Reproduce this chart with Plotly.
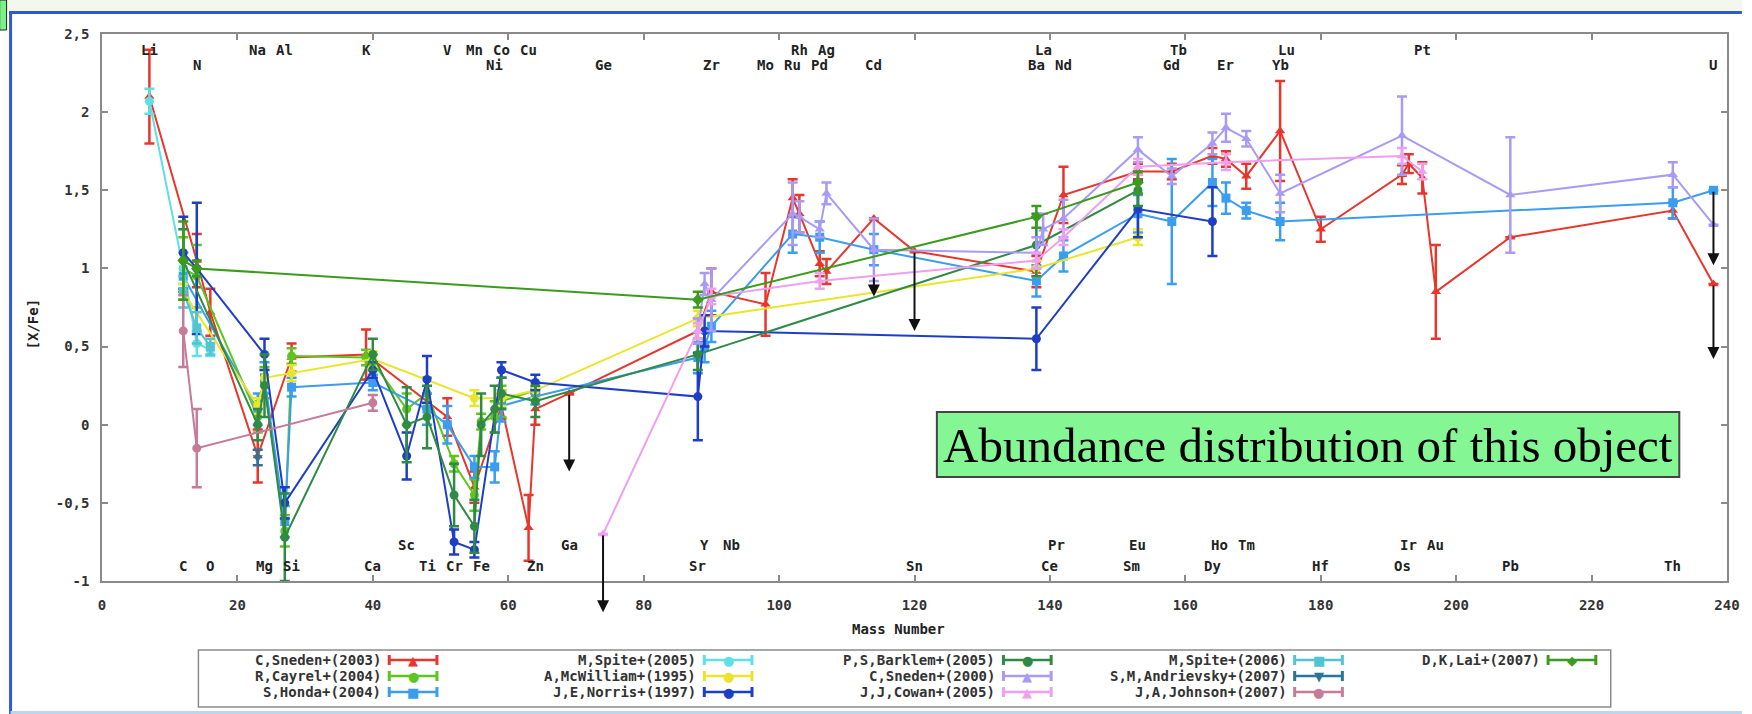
import plotly.graph_objects as go

W, H = 1752, 714
L, R, T, B = 102, 1737, 34, 581

mass_number = {"Li": 7, "C": 12, "N": 14, "O": 16, "Na": 23, "Mg": 24, "Al": 27, "Si": 28,
               "K": 39, "Ca": 40, "Sc": 45, "Ti": 48, "V": 51, "Cr": 52, "Mn": 55, "Fe": 56,
               "Ni": 58, "Co": 59, "Cu": 63, "Zn": 64, "Ga": 69, "Ge": 74, "Sr": 88, "Y": 89,
               "Zr": 90, "Nb": 93, "Mo": 98, "Ru": 102, "Rh": 103, "Pd": 106, "Ag": 107,
               "Cd": 114, "Sn": 120, "Ba": 138, "La": 139, "Ce": 140, "Pr": 141, "Nd": 142,
               "Sm": 152, "Eu": 153, "Gd": 158, "Tb": 159, "Dy": 164, "Ho": 165, "Er": 166,
               "Tm": 169, "Yb": 174, "Lu": 175, "Hf": 180, "Os": 192, "Ir": 193, "Pt": 195,
               "Au": 197, "Pb": 208, "Th": 232, "U": 238}

# ---------------- series data ----------------
sneden03_el = ["Li", "N", "O", "Na", "Si", "K", "V", "Mn", "Co", "Cu", "Zn", "Ga", "Sr", "Zr", "Mo",
               "Ru", "Rh", "Pd", "Ag", "Cd", "Sn", "Ba", "Nd", "Eu", "Gd", "Dy", "Er", "Tm", "Yb",
               "Hf", "Os", "Ir", "Pt", "Au", "Pb", "Th", "U"]
sneden03_y = [2.10, 1.05, 0.72, -0.20, 0.43, 0.45, 0.05, -0.40, 0.12, -0.66, 0.10, 0.20, 0.60, 0.85, 0.77,
              1.45, 1.35, 1.03, 0.98, 1.32, 1.11, 0.98, 1.47, 1.62, 1.62, 1.72, 1.70, 1.59, 1.88,
              1.25, 1.60, 1.67, 1.58, 0.85, 1.20, 1.37, 0.90]
sneden03_err = [0.30, 0.17, 0.15, 0.17, 0.09, 0.16, 0.12, 0.10, 0.08, 0.21, 0.10, 0.0, 0.08, 0.15, 0.20,
                0.12, 0.12, 0.08, 0.08, 0.0, 0.0, 0.10, 0.18, 0.05, 0.05, 0.05, 0.05, 0.08, 0.32,
                0.08, 0.06, 0.06, 0.10, 0.30, 0.0, 0.05, 0.0]

cayrel04_el = ["C", "N", "Na", "Mg", "Al", "Si", "K", "Ca", "Sc", "Ti", "Cr", "Mn", "Fe", "Ni", "Co", "Zn"]
cayrel04_y = [1.00, 0.95, 0.05, 0.27, -0.68, 0.44, 0.43, 0.40, 0.10, 0.20, -0.25, -0.45, 0.02, 0.05, 0.15, 0.22]
cayrel04_err = [0.20, 0.20, 0.10, 0.10, 0.10, 0.05, 0.05, 0.05, 0.10, 0.10, 0.05, 0.10, 0.05, 0.10, 0.10, 0.05]

honda04_el = ["C", "Na", "Mg", "Al", "Si", "Ca", "Ti", "V", "Mn", "Ni", "Co", "Zn", "Sr", "Y", "Zr", "Ru",
              "Pd", "Cd", "Ba", "Nd", "Eu", "Gd", "Dy", "Er", "Tm", "Yb", "Th", "U"]
honda04_y = [0.95, 0.10, 0.30, -0.62, 0.24, 0.27, 0.10, 0.00, -0.27, -0.27, 0.12, 0.18, 0.43, 0.50, 0.63, 1.22,
             1.20, 1.12, 0.92, 1.08, 1.35, 1.30, 1.55, 1.45, 1.37, 1.30, 1.42, 1.50]
honda04_err = [0.15, 0.10, 0.10, 0.10, 0.06, 0.05, 0.10, 0.12, 0.07, 0.10, 0.10, 0.05, 0.10, 0.10, 0.10, 0.12,
               0.10, 0.10, 0.10, 0.10, 0.12, 0.40, 0.15, 0.10, 0.05, 0.12, 0.10, 0.0]

spite05_el = ["Li", "C", "N", "O"]
spite05_y = [2.07, 1.00, 0.52, 0.48]
spite05_err = [0.08, 0.10, 0.08, 0.04]

mcwilliam95_el = ["C", "Na", "Mg", "Si", "Ca", "Mn", "Co", "Zn", "Sr", "Ba", "Eu"]
mcwilliam95_y = [0.85, 0.12, 0.30, 0.33, 0.42, 0.17, 0.17, 0.22, 0.68, 1.00, 1.20]
mcwilliam95_err = [0.05, 0.05, 0.05, 0.05, 0.05, 0.05, 0.05, 0.05, 0.05, 0.05, 0.05]

norris97_el = ["C", "N", "Mg", "Al", "Ca", "Sc", "Ti", "Cr", "Mn", "Co", "Zn", "Sr", "Y", "Ba", "Eu", "Dy"]
norris97_y = [1.10, 1.00, 0.45, -0.50, 0.35, -0.20, 0.29, -0.75, -0.80, 0.35, 0.27, 0.18, 0.60, 0.55, 1.38, 1.30]
norris97_err = [0.23, 0.42, 0.10, 0.10, 0.05, 0.15, 0.15, 0.08, 0.05, 0.05, 0.05, 0.28, 0.10, 0.20, 0.18, 0.22]

barklem05_el = ["C", "Na", "Mg", "Al", "Ca", "Sc", "Ti", "Cr", "Mn", "Fe", "Ni", "Co", "Zn", "Sr", "Ba", "Eu"]
barklem05_y = [1.05, 0.00, 0.25, -0.72, 0.45, 0.00, 0.05, -0.45, -0.65, 0.00, 0.10, 0.20, 0.15, 0.45, 1.15, 1.50]
barklem05_err = [0.20, 0.10, 0.20, 0.28, 0.10, 0.24, 0.20, 0.20, 0.17, 0.20, 0.15, 0.10, 0.10, 0.10, 0.20, 0.10]

sneden00_el = ["Sr", "Y", "Zr", "Ru", "Rh", "Pd", "Ag", "Cd", "Ba", "La", "Nd", "Eu", "Gd", "Dy", "Er",
               "Tm", "Yb", "Os", "Pb", "Th", "U"]
sneden00_y = [0.60, 0.90, 0.80, 1.35, 1.33, 1.25, 1.48, 1.12, 1.10, 1.25, 1.32, 1.76, 1.59, 1.80, 1.90,
              1.83, 1.48, 1.85, 1.47, 1.60, 1.28]
sneden00_err = [0.08, 0.07, 0.20, 0.20, 0.10, 0.05, 0.07, 0.20, 0.10, 0.10, 0.12, 0.08, 0.05, 0.07, 0.09,
                0.05, 0.12, 0.25, 0.37, 0.08, 0.0]

cowan05_el = ["Ge", "Sr", "Zr", "Pd", "Ba", "Nd", "Eu", "Er", "Os", "Pt"]
cowan05_y = [-0.70, 0.60, 0.82, 0.92, 1.05, 1.20, 1.65, 1.68, 1.72, 1.62]
cowan05_err = [0.0, 0.05, 0.05, 0.05, 0.05, 0.05, 0.05, 0.05, 0.05, 0.05]

spite06_el = ["C", "N", "O"]
spite06_y = [0.85, 0.62, 0.50]
spite06_err = [0.10, 0.10, 0.05]

andrievsky07_el = ["Na"]
andrievsky07_y = [-0.21]
andrievsky07_err = [0.05]

johnson07_el = ["C", "N", "Ca"]
johnson07_y = [0.60, -0.15, 0.14]
johnson07_err = [0.23, 0.25, 0.05]

lai07_el = ["C", "N", "Sr", "Ba", "Eu"]
lai07_y = [1.05, 1.00, 0.80, 1.33, 1.55]
lai07_err = [0.25, 0.05, 0.05, 0.07, 0.07]

# upper limits (black arrows): x position, arrow start, arrow tip
ul_el = ["Ga", "Ge", "Cd", "Sn", "U", "U"]
ul_from = [0.20, -0.70, 0.95, 1.11, 1.50, 0.90]
ul_to = [-0.30, -1.20, 0.82, 0.60, 1.02, 0.42]

# element labels
label_row1 = ["Li", "Na", "Al", "K", "V", "Mn", "Co", "Cu", "Rh", "Ag", "La", "Tb", "Lu", "Pt"]
label_row2 = ["N", "Ni", "Ge", "Zr", "Mo", "Ru", "Pd", "Cd", "Ba", "Nd", "Gd", "Er", "Yb", "U"]
label_row3 = ["Sc", "Ga", "Y", "Nb", "Pr", "Eu", "Ho", "Tm", "Ir", "Au"]
label_row4 = ["C", "O", "Mg", "Si", "Ca", "Ti", "Cr", "Fe", "Zn", "Sr", "Sn", "Ce", "Sm", "Dy", "Hf",
              "Os", "Pb", "Th"]
label_row_y = [2.40, 2.30, -0.77, -0.905]

x_ticks = [0, 20, 40, 60, 80, 100, 120, 140, 160, 180, 200, 220, 240]
y_ticks = [-1, -0.5, 0, 0.5, 1, 1.5, 2, 2.5]
y_ticktext = ["-1", "-0,5", "0", "0,5", "1", "1,5", "2", "2,5"]

series = [
    ("C,Sneden+(2003)", sneden03_el, sneden03_y, sneden03_err, "#e8362c", "triangle-up", "▲", 0, 0),
    ("R,Cayrel+(2004)", cayrel04_el, cayrel04_y, cayrel04_err, "#5cc61e", "circle", "●", 0, 1),
    ("S,Honda+(2004)", honda04_el, honda04_y, honda04_err, "#3a9df0", "square", "■", 0, 2),
    ("M,Spite+(2005)", spite05_el, spite05_y, spite05_err, "#5fdfe6", "circle", "●", 1, 0),
    ("A,McWilliam+(1995)", mcwilliam95_el, mcwilliam95_y, mcwilliam95_err, "#e9e52c", "circle", "●", 1, 1),
    ("J,E,Norris+(1997)", norris97_el, norris97_y, norris97_err, "#1e3ec6", "circle", "●", 1, 2),
    ("P,S,Barklem+(2005)", barklem05_el, barklem05_y, barklem05_err, "#2f8a44", "circle", "●", 2, 0),
    ("C,Sneden+(2000)", sneden00_el, sneden00_y, sneden00_err, "#a99af5", "triangle-up", "▲", 2, 1),
    ("J,J,Cowan+(2005)", cowan05_el, cowan05_y, cowan05_err, "#ef9ff0", "triangle-up", "▲", 2, 2),
    ("M,Spite+(2006)", spite06_el, spite06_y, spite06_err, "#52c4d2", "square", "■", 3, 0),
    ("S,M,Andrievsky+(2007)", andrievsky07_el, andrievsky07_y, andrievsky07_err, "#2a7596", "triangle-down", "▼", 3, 1),
    ("J,A,Johnson+(2007)", johnson07_el, johnson07_y, johnson07_err, "#c67b99", "circle", "●", 3, 2),
    ("D,K,Lai+(2007)", lai07_el, lai07_y, lai07_err, "#3a9b1c", "diamond", "◆", 4, 0),
]

MONO = "DejaVu Sans Mono"


def px(x):
    return (x - L) / (R - L)


def py(y):
    return (B - y) / (B - T)


fig = go.Figure()
for name, els, ys, errs, col, sym, glyph, c, r in series:
    fig.add_trace(go.Scatter(
        x=[mass_number[e] for e in els], y=ys, name=name, mode="lines+markers",
        line=dict(color=col, width=2),
        marker=dict(color=col, symbol=sym, size=9),
        error_y=dict(type="data", array=errs, visible=True, color=col, thickness=2.5, width=5),
        showlegend=False, cliponaxis=False,
    ))

annotations = []
shapes = []

# upper-limit arrows
for e, y0, y1 in zip(ul_el, ul_from, ul_to):
    annotations.append(dict(x=mass_number[e], y=y1, ax=mass_number[e], ay=y0, xref="x", yref="y",
                            axref="x", ayref="y", text="", showarrow=True, arrowhead=2,
                            arrowsize=1.2, arrowwidth=2, arrowcolor="#111"))

# element labels
for row, yv in zip([label_row1, label_row2, label_row3, label_row4], label_row_y):
    for e in row:
        annotations.append(dict(x=mass_number[e], y=yv, xref="x", yref="y", text=e, showarrow=False,
                                xanchor="center", yanchor="middle",
                                font=dict(family=MONO, size=14, color="#222", weight="bold")))

# axis titles
annotations.append(dict(x=px(903), y=py(629), xref="paper", yref="paper", text="Mass Number",
                        xanchor="center", yanchor="middle",
                        showarrow=False, font=dict(family=MONO, size=14, color="#222", weight="bold")))
annotations.append(dict(x=px(33), y=py(324), xref="paper", yref="paper", text="[X/Fe]", textangle=-90,
                        xanchor="center", yanchor="middle",
                        showarrow=False, font=dict(family=MONO, size=14, color="#222", weight="bold")))

# custom legend
leg_text_right = [385, 702, 1003, 1296, 1551]
leg_rows = [660, 676, 692]
shapes.append(dict(type="rect", xref="paper", yref="paper", x0=px(199), x1=px(1620), y0=py(650), y1=py(707),
                   line=dict(color="#8a8a8a", width=1.5), fillcolor="white", layer="below"))
for name, els, ys, errs, col, sym, glyph, c, r in series:
    tx = leg_text_right[c]
    ry = leg_rows[r]
    annotations.append(dict(x=px(tx), y=py(ry), xref="paper", yref="paper", text=name,
                            xanchor="right", yanchor="middle",
                            showarrow=False, font=dict(family=MONO, size=14, color="#333", weight="bold")))
    s0, s1 = tx + 6, tx + 54
    shapes.append(dict(type="line", xref="paper", yref="paper", x0=px(s0), x1=px(s1), y0=py(ry), y1=py(ry),
                       line=dict(color=col, width=2.5)))
    for sx in (s0, s1):
        shapes.append(dict(type="line", xref="paper", yref="paper", x0=px(sx), x1=px(sx), y0=py(ry - 5),
                           y1=py(ry + 5), line=dict(color=col, width=3)))
    annotations.append(dict(x=px((s0 + s1) / 2), y=py(ry), xref="paper", yref="paper", text=glyph,
                            xanchor="center", yanchor="middle",
                            showarrow=False, font=dict(family="DejaVu Sans", size=13, color=col)))

# slide frame
shapes.append(dict(type="rect", xref="paper", yref="paper", x0=px(0), x1=px(W), y0=py(0), y1=py(11),
                   line=dict(width=0), fillcolor="#f2f8ee", layer="below"))
shapes.append(dict(type="line", xref="paper", yref="paper", x0=px(9), x1=px(W), y0=py(12.5), y1=py(12.5),
                   line=dict(color="#2e5bd4", width=3)))
shapes.append(dict(type="line", xref="paper", yref="paper", x0=px(10), x1=px(10), y0=py(11), y1=py(H),
                   line=dict(color="#2e5bd4", width=3)))
shapes.append(dict(type="rect", xref="paper", yref="paper", x0=px(-1), x1=px(6), y0=py(0), y1=py(30),
                   line=dict(color="#222", width=1), fillcolor="#7ef08a"))
shapes.append(dict(type="line", xref="paper", yref="paper", x0=px(10), x1=px(W), y0=py(712.5), y1=py(712.5),
                   line=dict(color="#bcd6f2", width=3)))

# caption box
shapes.append(dict(type="rect", xref="paper", yref="paper", x0=px(942), x1=px(1689), y0=py(412), y1=py(477),
                   line=dict(color="#444", width=2), fillcolor="#84f794"))
annotations.append(dict(x=px(1315.5), y=py(445), xref="paper", yref="paper",
                        xanchor="center", yanchor="middle",
                        text="Abundance distribution of this object", showarrow=False,
                        font=dict(family="Liberation Serif", size=49, color="#000")))

axis_common = dict(showline=True, linecolor="#8a8a8a", linewidth=1.5, mirror="ticks", ticks="inside",
                   ticklen=6, tickwidth=1.5, tickcolor="#8a8a8a", showgrid=False, zeroline=False,
                   tickfont=dict(family=MONO, size=14, color="#333", weight="bold"))

fig.update_layout(
    width=W, height=H, margin=dict(l=L, r=W - R, t=T, b=H - B),
    paper_bgcolor="white", plot_bgcolor="white", showlegend=False,
    xaxis=dict(range=[0, 240], tickvals=x_ticks, ticklabelstandoff=10, **axis_common),
    yaxis=dict(range=[-1, 2.5], tickvals=y_ticks, ticktext=y_ticktext, ticklabelstandoff=8, **axis_common),
    annotations=annotations, shapes=shapes,
)

fig.write_html("out.html")
